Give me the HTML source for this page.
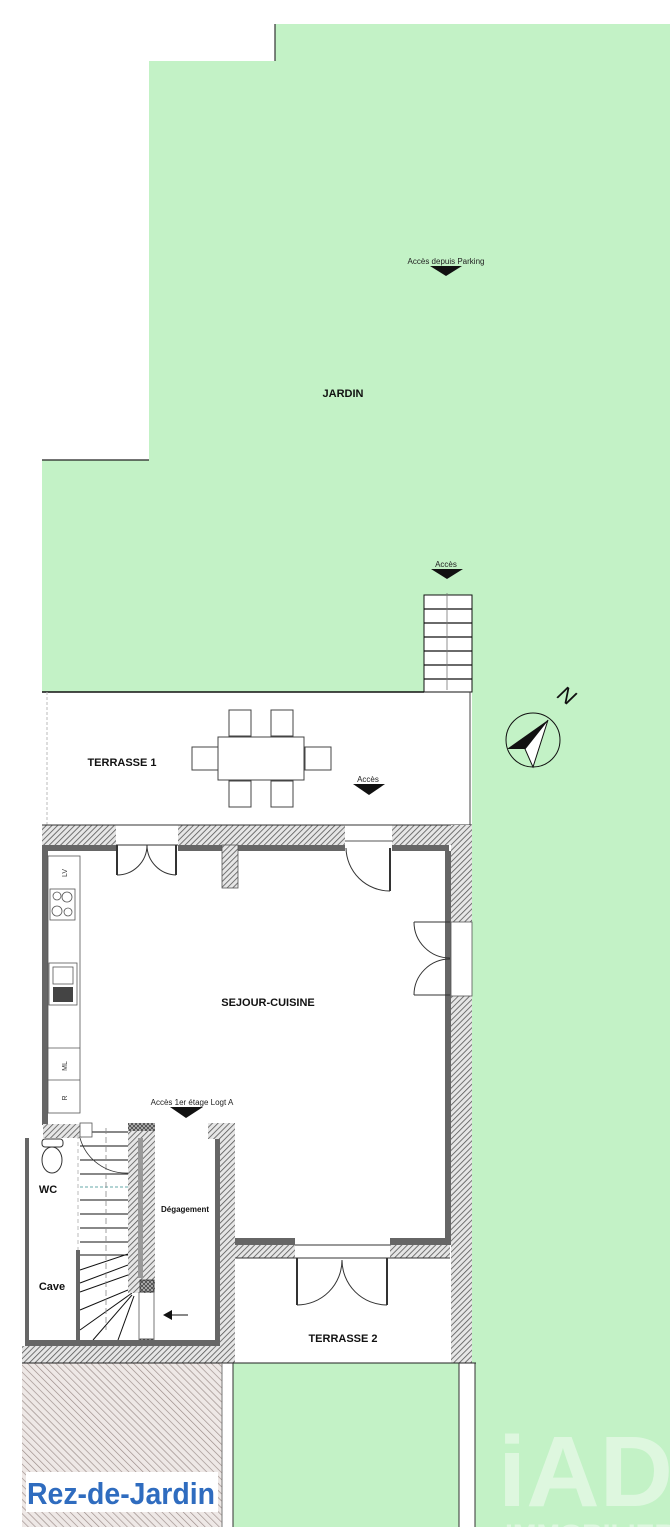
<!DOCTYPE html>
<html><head><meta charset="utf-8"><style>
html,body{margin:0;padding:0;background:#fff;}
svg{display:block;}
text{font-family:"Liberation Sans",sans-serif;}
</style></head><body>
<svg width="670" height="1537" viewBox="0 0 670 1537" xmlns="http://www.w3.org/2000/svg">
<defs>
<pattern id="h" width="4" height="4" patternUnits="userSpaceOnUse" patternTransform="rotate(45)">
<rect width="4" height="4" fill="#e6e6e6"/><line x1="0" y1="0" x2="0" y2="4" stroke="#555" stroke-width="1.6"/></pattern>
<pattern id="hb" width="5" height="5" patternUnits="userSpaceOnUse" patternTransform="rotate(-45)">
<rect width="5" height="5" fill="#eee8e6"/><line x1="0" y1="0" x2="0" y2="5" stroke="#9a8c88" stroke-width="1.3"/></pattern>
<pattern id="x" width="4" height="4" patternUnits="userSpaceOnUse">
<rect width="4" height="4" fill="#bbb"/><path d="M0 0L4 4M4 0L0 4" stroke="#444" stroke-width="0.8"/></pattern>
</defs>
<!-- garden -->
<path d="M275 24H670V1527H42V460H149V61H275Z" fill="#c3f2c6"/>
<rect x="22" y="692" width="450" height="671" fill="#fff"/>
<line x1="275" y1="24" x2="275" y2="61" stroke="#333" stroke-width="1.2"/>
<line x1="42" y1="460" x2="149" y2="460" stroke="#222" stroke-width="1.2"/>
<text x="446" y="264" font-size="8" text-anchor="middle" fill="#222">Accès depuis Parking</text>
<path d="M430 266H462L446 276Z" fill="#111"/>
<text x="343" y="397" font-size="11" font-weight="bold" text-anchor="middle" fill="#111">JARDIN</text>

<!-- exterior stair -->
<text x="446" y="567" font-size="8" text-anchor="middle" fill="#222">Accès</text>
<path d="M431 569H463L447 579Z" fill="#111"/>
<rect x="424" y="595" width="48" height="97" fill="#fff" stroke="#111" stroke-width="1"/>
<g stroke="#111" stroke-width="1.2"><line x1="424" y1="609" x2="472" y2="609"/><line x1="424" y1="623" x2="472" y2="623"/><line x1="424" y1="637" x2="472" y2="637"/><line x1="424" y1="651" x2="472" y2="651"/><line x1="424" y1="665" x2="472" y2="665"/><line x1="424" y1="679" x2="472" y2="679"/></g>
<line x1="447" y1="593" x2="447" y2="690" stroke="#777" stroke-width="0.8"/>

<!-- compass -->
<circle cx="533" cy="740" r="27" fill="none" stroke="#111" stroke-width="1"/>
<path d="M548 720L507 749L525 749Z" fill="#111"/>
<path d="M548 720L525 749L533 767Z" fill="#fff" stroke="#111" stroke-width="1"/>
<text x="567" y="703" font-size="22" font-style="italic" fill="#111" text-anchor="middle" transform="rotate(35 567 695)">N</text>

<!-- terrasse 1 -->
<line x1="42" y1="692" x2="424" y2="692" stroke="#111" stroke-width="1.5"/>
<line x1="47" y1="692" x2="47" y2="826" stroke="#bbb" stroke-width="1" stroke-dasharray="3 2"/>
<line x1="470" y1="692" x2="470" y2="826" stroke="#444" stroke-width="1"/>
<text x="122" y="766" font-size="11" font-weight="bold" text-anchor="middle" fill="#111">TERRASSE 1</text>
<g fill="#fff" stroke="#444" stroke-width="1">
<rect x="229" y="710" width="22" height="26"/><rect x="271" y="710" width="22" height="26"/>
<rect x="229" y="781" width="22" height="26"/><rect x="271" y="781" width="22" height="26"/>
<rect x="192" y="747" width="26" height="23"/><rect x="305" y="747" width="26" height="23"/>
<rect x="218" y="737" width="86" height="43"/></g>
<text x="368" y="782" font-size="8" text-anchor="middle" fill="#222">Accès</text>
<path d="M353 784H385L369 795Z" fill="#111"/>

<!-- top wall -->
<rect x="42" y="825" width="74" height="20" fill="url(#h)"/>
<rect x="178" y="825" width="167" height="20" fill="url(#h)"/>
<rect x="392" y="825" width="80" height="20" fill="url(#h)"/>
<line x1="42" y1="825" x2="472" y2="825" stroke="#333" stroke-width="1"/>
<rect x="47" y="845" width="69" height="6" fill="#666"/>
<rect x="178" y="845" width="167" height="6" fill="#666"/>
<rect x="392" y="845" width="57" height="6" fill="#666"/>
<rect x="222" y="845" width="16" height="43" fill="url(#h)" stroke="#555" stroke-width="0.8"/>
<line x1="116" y1="845" x2="178" y2="845" stroke="#333"/>
<line x1="345" y1="841" x2="392" y2="841" stroke="#555"/>
<g stroke="#333" fill="none" stroke-width="1">
<line x1="117" y1="845" x2="117" y2="875" stroke-width="2"/><line x1="176" y1="845" x2="176" y2="875" stroke-width="2"/>
<path d="M117 875A30 30 0 0 0 147 845"/><path d="M176 875A30 30 0 0 1 147 845"/>
<line x1="390" y1="848" x2="390" y2="891" stroke-width="2"/>
<path d="M346 848A44 44 0 0 0 390 891"/>
</g>
<!-- left wall -->
<rect x="42" y="845" width="6" height="280" fill="#666"/>
<!-- right wall -->
<rect x="451" y="825" width="21" height="97" fill="url(#h)"/>
<rect x="451" y="996" width="21" height="367" fill="url(#h)"/>
<rect x="445" y="851" width="6" height="394" fill="#666"/>
<rect x="451" y="922" width="21" height="74" fill="#fff" stroke="#555" stroke-width="0.8"/>
<g stroke="#333" fill="none" stroke-width="1">
<path d="M414 922H450M414 922A36 36 0 0 0 450 958"/>
<path d="M414 995H450M414 995A36 36 0 0 1 450 959"/>
</g>
<text x="268" y="1006" font-size="11" font-weight="bold" text-anchor="middle" fill="#111">SEJOUR-CUISINE</text>
<!-- kitchen -->
<g fill="none" stroke="#555" stroke-width="0.8">
<rect x="48" y="856" width="32" height="257"/>
<line x1="48" y1="1048" x2="80" y2="1048"/><line x1="48" y1="1080" x2="80" y2="1080"/>
<rect x="50" y="889" width="25" height="31"/>
<circle cx="57" cy="896" r="4"/><circle cx="67" cy="897" r="5"/><circle cx="57" cy="911" r="5"/><circle cx="68" cy="912" r="4"/>
<rect x="49" y="963" width="28" height="42"/><rect x="53" y="967" width="20" height="17"/>
</g>
<rect x="53" y="987" width="20" height="15" fill="#444"/>
<g font-size="7" fill="#333" text-anchor="middle">
<text transform="translate(67 873) rotate(-90)">LV</text>
<text transform="translate(67 1066) rotate(-90)">ML</text>
<text transform="translate(67 1098) rotate(-90)">R</text>
</g>
<text x="192" y="1105" font-size="8" text-anchor="middle" fill="#222">Accès 1er étage Logt A</text>
<path d="M170 1107H203L186 1118Z" fill="#111"/>

<!-- lower left rooms -->
<rect x="22" y="1125" width="20" height="238" fill="#fff"/>
<rect x="43" y="1124" width="39" height="14" fill="url(#h)"/>
<rect x="25" y="1138" width="4" height="208" fill="#666"/>
<rect x="76" y="1250" width="4" height="96" fill="#666"/>
<line x1="78" y1="1135" x2="78" y2="1250" stroke="#bbb" stroke-dasharray="4 3"/>
<ellipse cx="52" cy="1160" rx="10" ry="13" fill="#fff" stroke="#333"/>
<rect x="42" y="1139" width="21" height="8" rx="3" fill="#fff" stroke="#333"/>
<text x="48" y="1193" font-size="11" font-weight="bold" text-anchor="middle" fill="#111">WC</text>
<text x="52" y="1290" font-size="11" font-weight="bold" text-anchor="middle" fill="#111">Cave</text>
<g stroke="#111" stroke-width="1">
<line x1="80" y1="1132" x2="128" y2="1132"/><line x1="80" y1="1146" x2="128" y2="1146"/><line x1="80" y1="1160" x2="128" y2="1160"/><line x1="80" y1="1174" x2="128" y2="1174"/><line x1="80" y1="1200" x2="128" y2="1200"/><line x1="80" y1="1214" x2="128" y2="1214"/><line x1="80" y1="1228" x2="128" y2="1228"/><line x1="80" y1="1242" x2="128" y2="1242"/><line x1="80" y1="1255" x2="128" y2="1255"/>
<line x1="80" y1="1270" x2="128" y2="1254"/><line x1="80" y1="1283" x2="128" y2="1265"/><line x1="80" y1="1292" x2="128" y2="1275"/><line x1="80" y1="1310" x2="128" y2="1290"/><line x1="80" y1="1330" x2="132" y2="1293"/><line x1="93" y1="1340" x2="132" y2="1295"/><line x1="118" y1="1340" x2="134" y2="1296"/>
</g>
<line x1="80" y1="1187" x2="128" y2="1187" stroke="#6aa" stroke-dasharray="3 2"/>
<line x1="106" y1="1128" x2="106" y2="1330" stroke="#888" stroke-dasharray="6 3" stroke-width="0.8"/>
<path d="M80 1138A48 48 0 0 0 128 1173" fill="none" stroke="#333" stroke-width="0.8"/>
<rect x="80" y="1123" width="12" height="14" fill="#fff" stroke="#555" stroke-width="0.8"/>
<rect x="128" y="1123" width="27" height="170" fill="url(#h)"/>
<rect x="128" y="1123" width="27" height="8" fill="url(#x)"/>
<rect x="138" y="1138" width="5" height="140" fill="#999"/>
<rect x="140" y="1280" width="14" height="12" fill="url(#x)" stroke="#333" stroke-width="0.8"/>
<rect x="140" y="1339" width="14" height="12" fill="url(#x)" stroke="#333" stroke-width="0.8"/>
<line x1="154" y1="1292" x2="154" y2="1340" stroke="#777"/>
<line x1="139" y1="1292" x2="139" y2="1340" stroke="#777"/>
<text x="185" y="1212" font-size="8" font-weight="bold" text-anchor="middle" fill="#111">Dégagement</text>
<path d="M164 1315H188" stroke="#111" stroke-width="1"/><path d="M163 1315L172 1310V1320Z" fill="#111"/>
<rect x="208" y="1123" width="27" height="16" fill="url(#h)"/>
<rect x="220" y="1139" width="15" height="224" fill="url(#h)"/>
<rect x="215" y="1139" width="5" height="206" fill="#666"/>
<rect x="25" y="1340" width="195" height="6" fill="#666"/>
<rect x="22" y="1346" width="200" height="17" fill="url(#h)"/>
<!-- sejour bottom wall -->
<rect x="235" y="1238" width="60" height="7" fill="#666"/>
<rect x="235" y="1245" width="60" height="13" fill="url(#h)"/>
<rect x="390" y="1238" width="59" height="7" fill="#666"/>
<rect x="390" y="1245" width="60" height="13" fill="url(#h)"/>
<line x1="295" y1="1245" x2="390" y2="1245" stroke="#333"/>
<line x1="235" y1="1258" x2="450" y2="1258" stroke="#333"/>
<g stroke="#333" fill="none" stroke-width="1">
<line x1="297" y1="1258" x2="297" y2="1305" stroke-width="2"/><line x1="387" y1="1258" x2="387" y2="1305" stroke-width="2"/>
<path d="M297 1305A45 45 0 0 0 342 1260"/><path d="M387 1305A45 45 0 0 1 342 1260"/>
</g>
<text x="343" y="1342" font-size="11" font-weight="bold" text-anchor="middle" fill="#111">TERRASSE 2</text>

<!-- bottom band -->
<rect x="22" y="1363" width="200" height="164" fill="url(#hb)"/>
<rect x="222" y="1363" width="11" height="164" fill="#fff"/>
<rect x="459" y="1363" width="16" height="164" fill="#fff"/>
<line x1="22" y1="1363" x2="476" y2="1363" stroke="#222" stroke-width="1"/>
<line x1="233" y1="1363" x2="233" y2="1527" stroke="#333"/>
<line x1="459" y1="1363" x2="459" y2="1527" stroke="#333"/>
<line x1="475" y1="1363" x2="475" y2="1527" stroke="#333"/>
<line x1="222" y1="1363" x2="222" y2="1527" stroke="#777"/>
<rect x="26" y="1472" width="192" height="40" fill="#fff"/>
<text x="27" y="1504" font-size="31" font-weight="bold" fill="#2f6cbf" textLength="188" lengthAdjust="spacingAndGlyphs">Rez-de-Jardin</text>
<g fill="#fff" opacity="0.45">
<text x="498" y="1506" font-size="100" font-weight="bold" textLength="175" lengthAdjust="spacingAndGlyphs">iAD</text>
<text x="505" y="1540" font-size="22" font-weight="bold" textLength="170" lengthAdjust="spacingAndGlyphs">IMMOBILIER</text>
</g>
<rect x="0" y="1527" width="670" height="10" fill="#fff"/>
</svg>
</body></html>
